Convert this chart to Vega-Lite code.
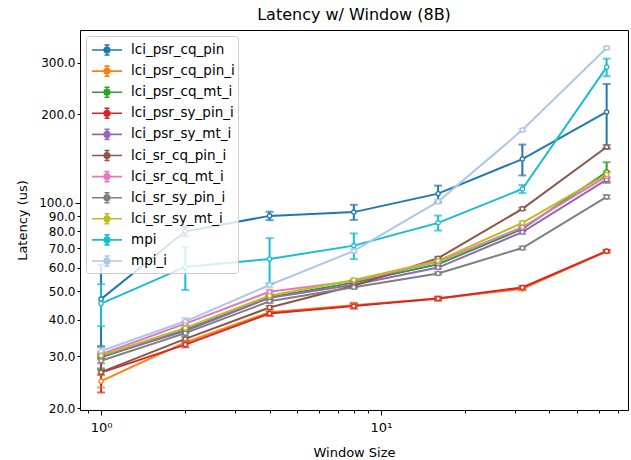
{
  "$schema": "https://vega.github.io/schema/vega-lite/v6.json",
  "width": 548,
  "height": 380,
  "autosize": {"type": "none"},
  "padding": {"left": 80, "top": 30, "right": 3, "bottom": 50},
  "title": {"text": "Latency w/ Window (8B)", "fontSize": 16, "fontWeight": "normal", "font": "DejaVu Sans", "offset": 7, "color": "#000"},
  "config": {
    "font": "DejaVu Sans",
    "view": {"stroke": "#000", "strokeWidth": 1},
    "axis": {"grid": false, "domain": false, "tickColor": "#000", "labelColor": "#000", "titleColor": "#000", "labelFontSize": 12, "titleFontSize": 13, "titleFontWeight": "normal"}
  },
  "datasets": {
    "d": [
      {"s": "lci_psr_cq_pin", "x": 1, "y": 47, "lo": 32.5, "hi": 61.5},
      {"s": "lci_psr_cq_pin", "x": 2, "y": 80, "lo": 77, "hi": 83},
      {"s": "lci_psr_cq_pin", "x": 4, "y": 90.3, "lo": 87.3, "hi": 93.3},
      {"s": "lci_psr_cq_pin", "x": 8, "y": 93, "lo": 87.5, "hi": 98.5},
      {"s": "lci_psr_cq_pin", "x": 16, "y": 107.5, "lo": 100.5, "hi": 114.5},
      {"s": "lci_psr_cq_pin", "x": 32, "y": 141, "lo": 124, "hi": 158},
      {"s": "lci_psr_cq_pin", "x": 64, "y": 204, "lo": 154, "hi": 254},
      {"s": "lci_psr_cq_pin_i", "x": 1, "y": 24.7, "lo": 23.5, "hi": 25.9},
      {"s": "lci_psr_cq_pin_i", "x": 2, "y": 33.5, "lo": 32.8, "hi": 34.2},
      {"s": "lci_psr_cq_pin_i", "x": 4, "y": 42.4, "lo": 41.2, "hi": 43.6},
      {"s": "lci_psr_cq_pin_i", "x": 8, "y": 44.8, "lo": 44, "hi": 45.6},
      {"s": "lci_psr_cq_pin_i", "x": 16, "y": 47.2, "lo": 46.5, "hi": 47.9},
      {"s": "lci_psr_cq_pin_i", "x": 32, "y": 51, "lo": 50.3, "hi": 51.7},
      {"s": "lci_psr_cq_pin_i", "x": 64, "y": 68.3, "lo": 67.6, "hi": 69},
      {"s": "lci_psr_cq_mt_i", "x": 1, "y": 29.8, "lo": 27.3, "hi": 32.3},
      {"s": "lci_psr_cq_mt_i", "x": 2, "y": 36.9, "lo": 36.3, "hi": 37.5},
      {"s": "lci_psr_cq_mt_i", "x": 4, "y": 47.7, "lo": 47, "hi": 48.4},
      {"s": "lci_psr_cq_mt_i", "x": 8, "y": 53.5, "lo": 52.8, "hi": 54.2},
      {"s": "lci_psr_cq_mt_i", "x": 16, "y": 61.8, "lo": 61, "hi": 62.6},
      {"s": "lci_psr_cq_mt_i", "x": 32, "y": 81.5, "lo": 80.3, "hi": 82.7},
      {"s": "lci_psr_cq_mt_i", "x": 64, "y": 127.4, "lo": 117, "hi": 137.5},
      {"s": "lci_psr_sy_pin_i", "x": 1, "y": 26.4, "lo": 22.6, "hi": 30.2},
      {"s": "lci_psr_sy_pin_i", "x": 2, "y": 32.9, "lo": 32.2, "hi": 33.6},
      {"s": "lci_psr_sy_pin_i", "x": 4, "y": 42, "lo": 41.3, "hi": 42.7},
      {"s": "lci_psr_sy_pin_i", "x": 8, "y": 44.5, "lo": 43.6, "hi": 45.4},
      {"s": "lci_psr_sy_pin_i", "x": 16, "y": 47.2, "lo": 46.5, "hi": 47.9},
      {"s": "lci_psr_sy_pin_i", "x": 32, "y": 51.5, "lo": 50.8, "hi": 52.2},
      {"s": "lci_psr_sy_pin_i", "x": 64, "y": 68.5, "lo": 67.8, "hi": 69.2},
      {"s": "lci_psr_sy_mt_i", "x": 1, "y": 30, "lo": 29.4, "hi": 30.6},
      {"s": "lci_psr_sy_mt_i", "x": 2, "y": 36.6, "lo": 36, "hi": 37.2},
      {"s": "lci_psr_sy_mt_i", "x": 4, "y": 47.5, "lo": 46.9, "hi": 48.1},
      {"s": "lci_psr_sy_mt_i", "x": 8, "y": 52.6, "lo": 52, "hi": 53.2},
      {"s": "lci_psr_sy_mt_i", "x": 16, "y": 60.2, "lo": 59.5, "hi": 60.9},
      {"s": "lci_psr_sy_mt_i", "x": 32, "y": 79.5, "lo": 78.5, "hi": 80.5},
      {"s": "lci_psr_sy_mt_i", "x": 64, "y": 120, "lo": 118, "hi": 122},
      {"s": "lci_sr_cq_pin_i", "x": 1, "y": 26.5, "lo": 26, "hi": 27},
      {"s": "lci_sr_cq_pin_i", "x": 2, "y": 34.4, "lo": 33.9, "hi": 34.9},
      {"s": "lci_sr_cq_pin_i", "x": 4, "y": 44, "lo": 43.4, "hi": 44.6},
      {"s": "lci_sr_cq_pin_i", "x": 8, "y": 52.2, "lo": 51.6, "hi": 52.8},
      {"s": "lci_sr_cq_pin_i", "x": 16, "y": 64.8, "lo": 64.1, "hi": 65.5},
      {"s": "lci_sr_cq_pin_i", "x": 32, "y": 95.4, "lo": 94.4, "hi": 96.4},
      {"s": "lci_sr_cq_pin_i", "x": 64, "y": 155, "lo": 152.5, "hi": 157.5},
      {"s": "lci_sr_cq_mt_i", "x": 1, "y": 30.5, "lo": 29.9, "hi": 31.1},
      {"s": "lci_sr_cq_mt_i", "x": 2, "y": 38.8, "lo": 38.2, "hi": 39.4},
      {"s": "lci_sr_cq_mt_i", "x": 4, "y": 49.8, "lo": 49.2, "hi": 50.4},
      {"s": "lci_sr_cq_mt_i", "x": 8, "y": 54.2, "lo": 53.6, "hi": 54.8},
      {"s": "lci_sr_cq_mt_i", "x": 16, "y": 63, "lo": 62.3, "hi": 63.7},
      {"s": "lci_sr_cq_mt_i", "x": 32, "y": 82.6, "lo": 81.6, "hi": 83.6},
      {"s": "lci_sr_cq_mt_i", "x": 64, "y": 123, "lo": 119, "hi": 127},
      {"s": "lci_sr_sy_pin_i", "x": 1, "y": 29, "lo": 28.4, "hi": 29.6},
      {"s": "lci_sr_sy_pin_i", "x": 2, "y": 36, "lo": 35.4, "hi": 36.6},
      {"s": "lci_sr_sy_pin_i", "x": 4, "y": 46.2, "lo": 45.6, "hi": 46.8},
      {"s": "lci_sr_sy_pin_i", "x": 8, "y": 51.6, "lo": 51, "hi": 52.2},
      {"s": "lci_sr_sy_pin_i", "x": 16, "y": 57.5, "lo": 56.9, "hi": 58.1},
      {"s": "lci_sr_sy_pin_i", "x": 32, "y": 70.2, "lo": 69.4, "hi": 71},
      {"s": "lci_sr_sy_pin_i", "x": 64, "y": 104.8, "lo": 103.3, "hi": 106.3},
      {"s": "lci_sr_sy_mt_i", "x": 1, "y": 30.2, "lo": 29.6, "hi": 30.8},
      {"s": "lci_sr_sy_mt_i", "x": 2, "y": 37.5, "lo": 36.9, "hi": 38.1},
      {"s": "lci_sr_sy_mt_i", "x": 4, "y": 48.3, "lo": 47.7, "hi": 48.9},
      {"s": "lci_sr_sy_mt_i", "x": 8, "y": 54.6, "lo": 54, "hi": 55.2},
      {"s": "lci_sr_sy_mt_i", "x": 16, "y": 63.5, "lo": 62.8, "hi": 64.2},
      {"s": "lci_sr_sy_mt_i", "x": 32, "y": 85.5, "lo": 84.5, "hi": 86.5},
      {"s": "lci_sr_sy_mt_i", "x": 64, "y": 125, "lo": 122, "hi": 128},
      {"s": "mpi", "x": 1, "y": 45.4, "lo": 38, "hi": 52.8},
      {"s": "mpi", "x": 2, "y": 60.5, "lo": 50.5, "hi": 70.5},
      {"s": "mpi", "x": 4, "y": 64.4, "lo": 53, "hi": 75.8},
      {"s": "mpi", "x": 8, "y": 71.5, "lo": 64.3, "hi": 78.7},
      {"s": "mpi", "x": 16, "y": 85.5, "lo": 80.5, "hi": 90.5},
      {"s": "mpi", "x": 32, "y": 111.5, "lo": 108, "hi": 115},
      {"s": "mpi", "x": 64, "y": 290, "lo": 270, "hi": 310},
      {"s": "mpi_i", "x": 1, "y": 31.3, "lo": 30.5, "hi": 32.1},
      {"s": "mpi_i", "x": 2, "y": 39.5, "lo": 38.5, "hi": 40.5},
      {"s": "mpi_i", "x": 4, "y": 52.5, "lo": 51.5, "hi": 53.5},
      {"s": "mpi_i", "x": 8, "y": 68.6, "lo": 67.6, "hi": 69.6},
      {"s": "mpi_i", "x": 16, "y": 101, "lo": 99.5, "hi": 102.5},
      {"s": "mpi_i", "x": 32, "y": 177, "lo": 175, "hi": 179},
      {"s": "mpi_i", "x": 64, "y": 337, "lo": 333, "hi": 341}
    ]
  },
  "data": {"name": "d"},
  "encoding": {
    "x": {
      "field": "x", "type": "quantitative",
      "scale": {"type": "log", "domain": [0.841, 76.3], "nice": false},
      "axis": {
        "title": "Window Size",
        "values": [0.9, 1, 2, 3, 4, 5, 6, 7, 8, 9, 10, 20, 30, 40, 50, 60, 70],
        "labelExpr": "datum.value == 1 ? '10⁰' : datum.value == 10 ? '10¹' : ''",
        "tickSize": {"condition": {"test": "datum.value == 1 || datum.value == 10", "value": 5}, "value": 3},
        "labelPadding": 6,
        "labelFontSize": 13,
        "titlePadding": 12
      }
    },
    "y": {
      "field": "y", "type": "quantitative",
      "scale": {"type": "log", "domain": [19.7, 388], "nice": false},
      "axis": {
        "title": "Latency (us)",
        "values": [20, 30, 40, 50, 60, 70, 80, 90, 100, 200, 300],
        "format": ".1f",
        "tickSize": {"condition": {"test": "datum.value == 100", "value": 5}, "value": 3},
        "titlePadding": 9
      }
    },
    "color": {
      "field": "s", "type": "nominal",
      "scale": {
        "domain": ["lci_psr_cq_pin", "lci_psr_cq_pin_i", "lci_psr_cq_mt_i", "lci_psr_sy_pin_i", "lci_psr_sy_mt_i", "lci_sr_cq_pin_i", "lci_sr_cq_mt_i", "lci_sr_sy_pin_i", "lci_sr_sy_mt_i", "mpi", "mpi_i"],
        "range": ["#1f77b4", "#ff7f0e", "#2ca02c", "#d62728", "#9467bd", "#8c564b", "#e377c2", "#7f7f7f", "#bcbd22", "#17becf", "#aec7e8"]
      },
      "legend": {
        "title": null,
        "orient": "none",
        "legendX": 6,
        "legendY": 6,
        "padding": 3,
        "fillColor": "rgba(255,255,255,0.8)",
        "strokeColor": "#cccccc",
        "cornerRadius": 3,
        "labelFontSize": 13.5,
        "labelColor": "#000",
        "labelOffset": 20,
        "rowPadding": 1.1,
        "symbolType": "M-0.8,0H2.2M0.7,-0.5V0.5M0.45,-0.5H0.95M0.45,0.5H0.95M0.98,0A0.28,0.28 0 1,1 0.42,0A0.28,0.28 0 1,1 0.98,0",
        "symbolSize": 400,
        "symbolStrokeWidth": 1.6,
        "symbolOpacity": 1,
        "symbolFillColor": "#ffffff",
        "encode": {"symbols": {"enter": {"fill": {"value": "#ffffff"}}, "update": {"fill": {"value": "#ffffff"}, "fillOpacity": {"value": 1}}}}
      }
    }
  },
  "layer": [
    {"mark": {"type": "line", "strokeWidth": 2}, "encoding": {"order": {"field": "x"}}},
    {"mark": {"type": "rule", "strokeWidth": 2}, "encoding": {"y": {"field": "lo", "type": "quantitative"}, "y2": {"field": "hi"}}},
    {"mark": {"type": "tick", "orient": "horizontal", "size": 8, "thickness": 2}, "encoding": {"y": {"field": "lo", "type": "quantitative"}}},
    {"mark": {"type": "tick", "orient": "horizontal", "size": 8, "thickness": 2}, "encoding": {"y": {"field": "hi", "type": "quantitative"}}},
    {"mark": {"type": "point", "shape": "circle", "filled": false, "fill": "white", "fillOpacity": 1, "size": 18, "strokeWidth": 1.3, "opacity": 1}}
  ]
}
